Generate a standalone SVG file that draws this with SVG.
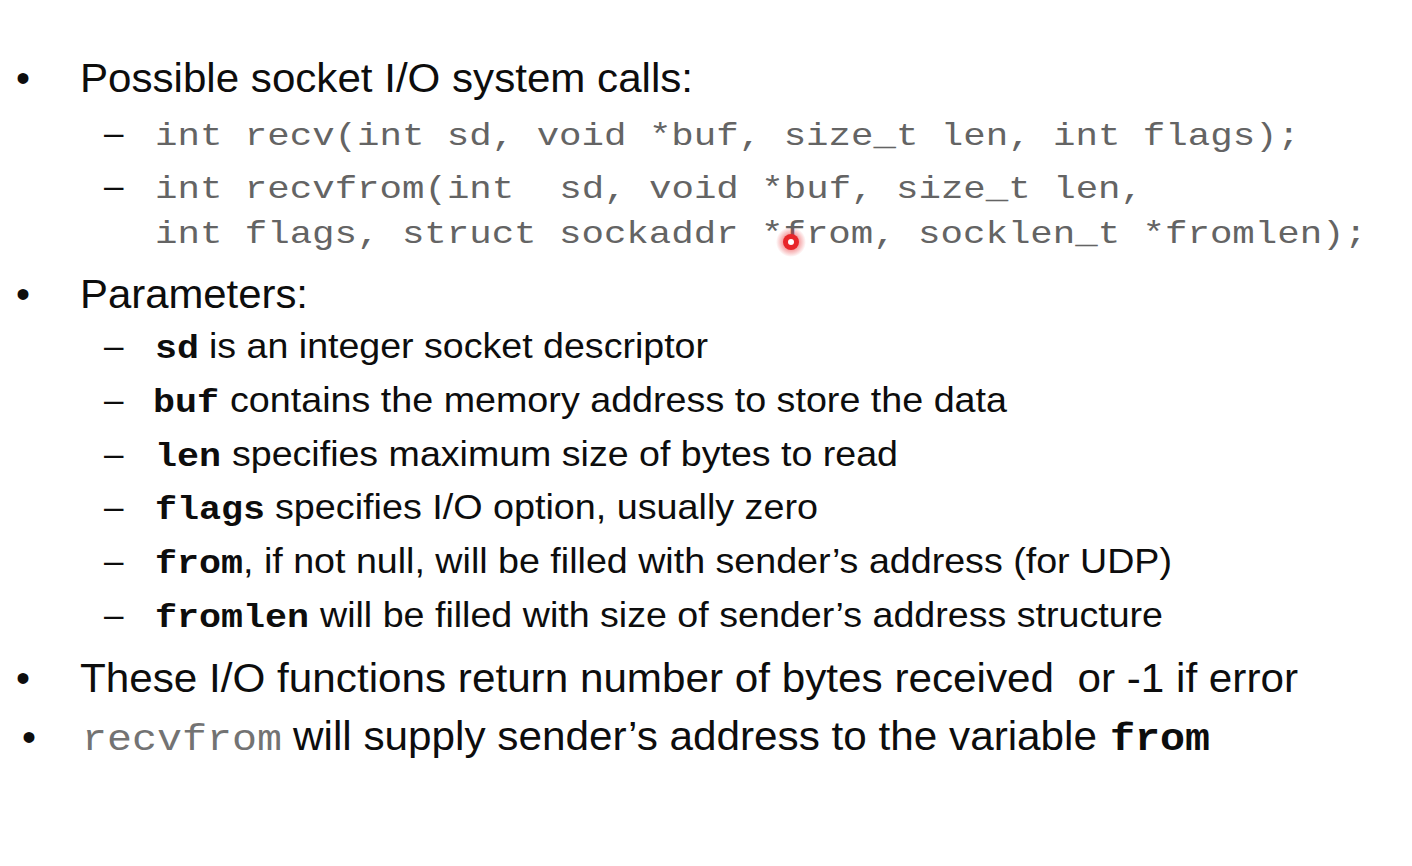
<svg xmlns="http://www.w3.org/2000/svg" width="1412" height="866" viewBox="0 0 1412 866">
<style>
.s{font-family:"Liberation Sans",Arial,sans-serif;fill:#0d0d0d}
.m1{font-size:40px}
.m2{font-size:35px}
.code{font-family:"Liberation Mono","Courier New",monospace;font-size:32px;fill:#646464}
.bm{font-family:"Liberation Mono","Courier New",monospace;font-weight:bold;font-size:34px;fill:#0d0d0d}
.gm{font-family:"Liberation Mono","Courier New",monospace;font-size:37px;fill:#737373}
.bb{font-family:"Liberation Mono","Courier New",monospace;font-weight:bold;font-size:38px;fill:#0d0d0d}
</style>
<defs>
<radialGradient id="glow">
<stop offset="0.45" stop-color="#e8262a" stop-opacity="0.5"/>
<stop offset="1" stop-color="#e8262a" stop-opacity="0"/>
</radialGradient>
</defs>
<rect width="1412" height="866" fill="#ffffff"/>

<g id="bullet-calls">
<text class="s m1" x="16" y="92">•</text>
<text class="s m1" x="80" y="92" textLength="613" lengthAdjust="spacingAndGlyphs">Possible socket I/O system calls:</text>
</g>
<g id="call-recv">
<text class="s m2" x="104" y="145" fill="#444">–</text>
<text class="code" x="155" y="145" xml:space="preserve" textLength="1145" lengthAdjust="spacingAndGlyphs">int recv(int sd, void *buf, size_t len, int flags);</text>
</g>
<g id="call-recvfrom">
<text class="s m2" x="104" y="198" fill="#444">–</text>
<text class="code" x="155" y="198" xml:space="preserve" textLength="988" lengthAdjust="spacingAndGlyphs">int recvfrom(int  sd, void *buf, size_t len,</text>
<text class="code" x="155" y="243" xml:space="preserve" textLength="1212" lengthAdjust="spacingAndGlyphs">int flags, struct sockaddr *from, socklen_t *fromlen);</text>
</g>

<g id="bullet-params">
<text class="s m1" x="16" y="308">•</text>
<text class="s m1" x="80" y="308" textLength="228" lengthAdjust="spacingAndGlyphs">Parameters:</text>
</g>
<g id="param-sd">
<text class="s m2" x="104" y="358">–</text>
<text class="bm" x="155" y="358" textLength="44" lengthAdjust="spacingAndGlyphs">sd</text>
<text class="s m2" x="209" y="358" textLength="499" lengthAdjust="spacingAndGlyphs">is an integer socket descriptor</text>
</g>
<g id="param-buf">
<text class="s m2" x="104" y="412">–</text>
<text class="bm" x="153" y="412" textLength="66" lengthAdjust="spacingAndGlyphs">buf</text>
<text class="s m2" x="230" y="412" textLength="777" lengthAdjust="spacingAndGlyphs">contains the memory address to store the data</text>
</g>
<g id="param-len">
<text class="s m2" x="104" y="466">–</text>
<text class="bm" x="155" y="466" textLength="66" lengthAdjust="spacingAndGlyphs">len</text>
<text class="s m2" x="232" y="466" textLength="666" lengthAdjust="spacingAndGlyphs">specifies maximum size of bytes to read</text>
</g>
<g id="param-flags">
<text class="s m2" x="104" y="519">–</text>
<text class="bm" x="155" y="519" textLength="110" lengthAdjust="spacingAndGlyphs">flags</text>
<text class="s m2" x="275" y="519" textLength="543" lengthAdjust="spacingAndGlyphs">specifies I/O option, usually zero</text>
</g>
<g id="param-from">
<text class="s m2" x="104" y="573">–</text>
<text class="bm" x="155" y="573" textLength="88" lengthAdjust="spacingAndGlyphs">from</text>
<text class="s m2" x="243" y="573" textLength="929" lengthAdjust="spacingAndGlyphs">, if not null, will be filled with sender’s address (for UDP)</text>
</g>
<g id="param-fromlen">
<text class="s m2" x="104" y="627">–</text>
<text class="bm" x="155" y="627" textLength="154" lengthAdjust="spacingAndGlyphs">fromlen</text>
<text class="s m2" x="320" y="627" textLength="843" lengthAdjust="spacingAndGlyphs">will be filled with size of sender’s address structure</text>
</g>

<g id="bullet-return">
<text class="s m1" x="16" y="692">•</text>
<text class="s m1" x="80" y="692" xml:space="preserve" textLength="1218" lengthAdjust="spacingAndGlyphs">These I/O functions return number of bytes received  or -1 if error</text>
</g>
<g id="bullet-recvfrom">
<text class="s m1" x="22" y="751">•</text>
<text class="gm" x="82" y="750" textLength="200" lengthAdjust="spacingAndGlyphs">recvfrom</text>
<text class="s m1" x="293" y="750" textLength="804" lengthAdjust="spacingAndGlyphs">will supply sender’s address to the variable</text>
<text class="bb" x="1110" y="750" textLength="100" lengthAdjust="spacingAndGlyphs">from</text>
</g>

<g id="pointer">
<circle cx="791" cy="242" r="15" fill="url(#glow)"/>
<circle cx="791" cy="242" r="8" fill="#e8262a"/>
<circle cx="791" cy="242" r="3" fill="#ffffff"/>
</g>
</svg>
